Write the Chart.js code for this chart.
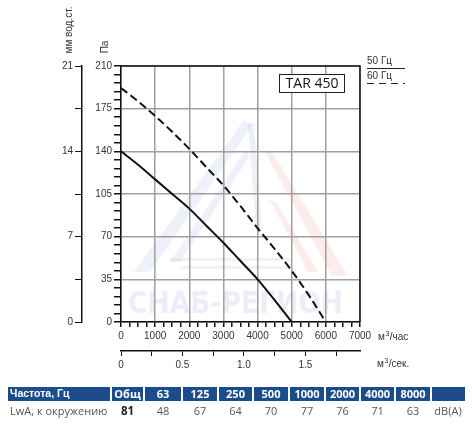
<!DOCTYPE html>
<html>
<head>
<meta charset="utf-8">
<script src="https://cdn.jsdelivr.net/npm/chart.js@4.4.1/dist/chart.umd.min.js"></script>
<style>
  body { margin: 0; background: #fff; }
  canvas { display: block; }
</style>
</head>
<body>
<canvas id="myChart" width="472" height="425"></canvas>
<script>
// fan curve TAR 450
var flow50 = [0, 500, 1000, 1500, 2000, 2500, 3000, 3500, 4000, 4500, 5000];
var pressure50 = [140, 129, 117, 105, 93, 79, 65, 50, 35, 18, 0];
var flow60 = [0, 500, 1000, 1500, 2000, 2500, 3000, 3500, 4000, 4500, 5000, 5500, 6000];
var pressure60 = [192, 181, 169, 156, 142, 127, 112, 95, 77, 60, 42, 22, 0];

// noise table
var bands = ['Общ', '63', '125', '250', '500', '1000', '2000', '4000', '8000'];
var lwa = [81, 48, 67, 64, 70, 77, 76, 71, 63];

var flowMax = 7000;
var paMax = 210;
var mmMax = 21;

var tickFont = { family: "'Liberation Sans', Arial, sans-serif", size: 10 };
var gridGray = '#a0a0a0';

function toPoints(xs, ys) {
  var pts = [];
  for (var i in xs) {
    pts.push({ x: xs[i], y: ys[i] });
  }
  return pts;
}

// "м³/час" style label: base text, small raised 3, rest
function unitLabel(ctx, x, y, rest) {
  ctx.font = "10px 'Liberation Sans', Arial, sans-serif";
  ctx.fillText('м', x, y);
  var w = ctx.measureText('м').width;
  ctx.font = "7px 'Liberation Sans', Arial, sans-serif";
  ctx.fillText('3', x + w + 0.5, y - 4);
  var w3 = ctx.measureText('3').width;
  ctx.font = "10px 'Liberation Sans', Arial, sans-serif";
  ctx.fillText(rest, x + w + w3 + 1, y);
}

var extras = {
  id: 'extras',
  beforeDraw: function(chart) {
    var ctx = chart.ctx;
    ctx.save();
    // faint watermark behind the grid
    ctx.fillStyle = 'rgba(90,105,205,0.10)';
    ctx.beginPath();
    ctx.moveTo(244, 120); ctx.lineTo(252, 126); ctx.lineTo(150, 272); ctx.lineTo(134, 272);
    ctx.closePath(); ctx.fill();
    ctx.beginPath();
    ctx.moveTo(246, 150); ctx.lineTo(250, 156); ctx.lineTo(180, 262); ctx.lineTo(170, 262);
    ctx.closePath(); ctx.fill();
    ctx.beginPath();
    ctx.moveTo(248, 122); ctx.lineTo(254, 124); ctx.lineTo(262, 230); ctx.lineTo(256, 232);
    ctx.closePath(); ctx.fill();
    ctx.fillStyle = 'rgba(225,70,70,0.10)';
    ctx.beginPath();
    ctx.moveTo(264, 150); ctx.lineTo(272, 152); ctx.lineTo(348, 276); ctx.lineTo(332, 276);
    ctx.closePath(); ctx.fill();
    ctx.beginPath();
    ctx.moveTo(270, 200); ctx.lineTo(276, 202); ctx.lineTo(318, 272); ctx.lineTo(308, 272);
    ctx.closePath(); ctx.fill();
    ctx.fillStyle = 'rgba(150,150,170,0.12)';
    ctx.fillRect(170, 258, 120, 3);
    ctx.fillRect(180, 266, 110, 3);
    ctx.fillStyle = 'rgba(120,135,215,0.15)';
    ctx.font = "bold 30px 'DejaVu Sans', sans-serif";
    ctx.textBaseline = 'alphabetic';
    ctx.textAlign = 'left';
    ctx.fillText('СНАБ-РЕГИОН', 128, 313, 215);
    ctx.restore();
  },
  afterDraw: function(chart) {
    var ctx = chart.ctx;
    var area = chart.chartArea;
    ctx.save();
    // frame on top and right
    ctx.strokeStyle = '#111';
    ctx.lineWidth = 1.5;
    ctx.beginPath();
    ctx.moveTo(area.left, area.top);
    ctx.lineTo(area.right, area.top);
    ctx.lineTo(area.right, area.bottom);
    ctx.stroke();

    ctx.fillStyle = '#333';
    ctx.font = "10px 'Liberation Sans', Arial, sans-serif";
    // rotated axis titles
    ctx.save();
    ctx.translate(72, 30);
    ctx.rotate(-Math.PI / 2);
    ctx.textAlign = 'center';
    ctx.textBaseline = 'alphabetic';
    ctx.fillText('мм вод.ст.', 0, 0);
    ctx.restore();
    ctx.save();
    ctx.translate(108, 47);
    ctx.rotate(-Math.PI / 2);
    ctx.textAlign = 'center';
    ctx.fillText('Па', 0, 0);
    ctx.restore();

    // unit labels of the flow axes
    ctx.textAlign = 'left';
    ctx.textBaseline = 'alphabetic';
    unitLabel(ctx, 378, 340, '/час');
    unitLabel(ctx, 377, 367, '/сек.');

    // legend
    ctx.font = "10px 'Liberation Sans', Arial, sans-serif";
    ctx.textBaseline = 'alphabetic';
    ctx.fillText('50 Гц', 367, 64);
    ctx.fillText('60 Гц', 367, 79);
    ctx.strokeStyle = '#222';
    ctx.lineWidth = 1.2;
    ctx.beginPath();
    ctx.moveTo(367, 68.5); ctx.lineTo(405, 68.5);
    ctx.stroke();
    ctx.setLineDash([7, 5]);
    ctx.beginPath();
    ctx.moveTo(367, 83.5); ctx.lineTo(405, 83.5);
    ctx.stroke();
    ctx.setLineDash([]);

    // model box
    ctx.fillStyle = '#fff';
    ctx.fillRect(279, 74, 65, 18);
    ctx.strokeStyle = '#222';
    ctx.lineWidth = 1;
    ctx.strokeRect(279.5, 74.5, 65, 18);
    ctx.fillStyle = '#111';
    ctx.font = "14px 'Open Sans', sans-serif";
    ctx.textAlign = 'center';
    ctx.textBaseline = 'middle';
    ctx.fillText('TAR 450', 312, 84);

    // sound table
    var cells = [[8, 110], [112, 143], [145, 181], [183, 217], [219, 252], [254, 288],
                 [290, 324], [326, 359], [361, 394], [396, 430], [432, 465]];
    ctx.fillStyle = '#1b4d8c';
    for (var i in cells) {
      ctx.fillRect(cells[i][0], 387, cells[i][1] - cells[i][0], 14);
    }
    ctx.fillStyle = '#fff';
    ctx.font = "bold 10.5px 'Liberation Sans', Arial, sans-serif";
    ctx.textAlign = 'left';
    ctx.fillText('Частота, Гц', 10, 394.5);
    ctx.font = "bold 11px 'Open Sans', sans-serif";
    ctx.textAlign = 'center';
    for (var j = 0; j < bands.length; j++) {
      var c = cells[j + 1];
      ctx.fillText(bands[j], (c[0] + c[1]) / 2, 394.5);
    }
    ctx.fillStyle = '#555';
    ctx.font = "11px 'Open Sans', sans-serif";
    ctx.textAlign = 'left';
    ctx.fillText('LwA, к окружению', 10, 412);
    ctx.textAlign = 'center';
    for (var k = 0; k < lwa.length; k++) {
      var cc = cells[k + 1];
      if (k === 0) {
        ctx.fillStyle = '#222';
        ctx.font = "bold 11.5px 'Open Sans', sans-serif";
      } else {
        ctx.fillStyle = '#555';
        ctx.font = "11px 'Open Sans', sans-serif";
      }
      ctx.fillText(String(lwa[k]), (cc[0] + cc[1]) / 2, 412);
    }
    ctx.fillStyle = '#555';
    ctx.font = "11px 'Open Sans', sans-serif";
    ctx.fillText('dB(A)', 448, 412);
    ctx.restore();
  }
};

var data = {
  datasets: [{
    label: '50 Гц',
    data: toPoints(flow50, pressure50),
    borderColor: '#111',
    borderWidth: 2,
    pointRadius: 0,
    cubicInterpolationMode: 'monotone',
    yAxisID: 'y'
  }, {
    label: '60 Гц',
    data: toPoints(flow60, pressure60),
    borderColor: '#111',
    borderWidth: 2,
    borderDash: [8, 4],
    pointRadius: 0,
    cubicInterpolationMode: 'monotone',
    yAxisID: 'y'
  }]
};

var config = {
  type: 'scatter',
  data: data,
  plugins: [extras],
  options: {
    responsive: false,
    animation: false,
    showLine: true,
    layout: { padding: { top: 66, right: 112, left: 0, bottom: 54 } },
    plugins: {
      legend: { display: false },
      tooltip: { enabled: false }
    },
    scales: {
      x: {
        type: 'linear',
        position: 'bottom',
        weight: 0,
        min: 0,
        max: flowMax,
        afterFit: function(s) { s.height = 29; },
        border: { color: '#111', width: 1.5 },
        grid: {
          color: function(c) { return c.tick && c.tick.value % 1000 === 0 ? gridGray : 'transparent'; },
          tickColor: '#111',
          lineWidth: 1.5,
          tickLength: 5
        },
        ticks: {
          stepSize: 250,
          autoSkip: false,
          maxRotation: 0,
          padding: 3,
          color: '#333',
          font: tickFont,
          callback: function(v) { return v % 1000 === 0 ? v : ''; }
        }
      },
      x2: {
        type: 'linear',
        position: 'bottom',
        weight: 1,
        min: 0,
        max: flowMax / 3600,
        afterFit: function(s) { s.height = 20; },
        border: { color: '#111', width: 1.5 },
        grid: { drawOnChartArea: false, tickColor: '#111', tickLength: 5 },
        ticks: {
          stepSize: 0.25,
          includeBounds: false,
          autoSkip: false,
          maxRotation: 0,
          padding: 3,
          color: '#333',
          font: tickFont,
          callback: function(v) {
            if (v % 0.5 !== 0) return '';
            return v === 0 ? '0' : v.toFixed(1);
          }
        }
      },
      y: {
        type: 'linear',
        position: 'left',
        weight: 0,
        min: 0,
        max: paMax,
        afterFit: function(s) { s.width = 39; },
        border: { color: '#111', width: 1.5 },
        grid: {
          color: function(c) { return c.tick && c.tick.value % 35 === 0 ? gridGray : 'transparent'; },
          tickColor: '#111',
          lineWidth: 1.5,
          tickLength: 7
        },
        ticks: {
          stepSize: 7,
          autoSkip: false,
          padding: 2,
          color: '#333',
          font: tickFont,
          callback: function(v) { return v % 35 === 0 ? v : ''; }
        }
      },
      mm: {
        type: 'linear',
        position: 'left',
        weight: 1,
        min: 0,
        max: mmMax,
        afterFit: function(s) { s.width = 82; },
        border: { color: '#111', width: 1.5 },
        grid: { drawOnChartArea: false, tickColor: '#111', tickLength: 7 },
        ticks: {
          stepSize: 3.5,
          autoSkip: false,
          padding: 2,
          color: '#333',
          font: tickFont,
          callback: function(v) { return v % 7 === 0 ? v : ''; }
        }
      }
    }
  }
};

var myChart = new Chart(document.getElementById('myChart'), config);
</script>
</body>
</html>
